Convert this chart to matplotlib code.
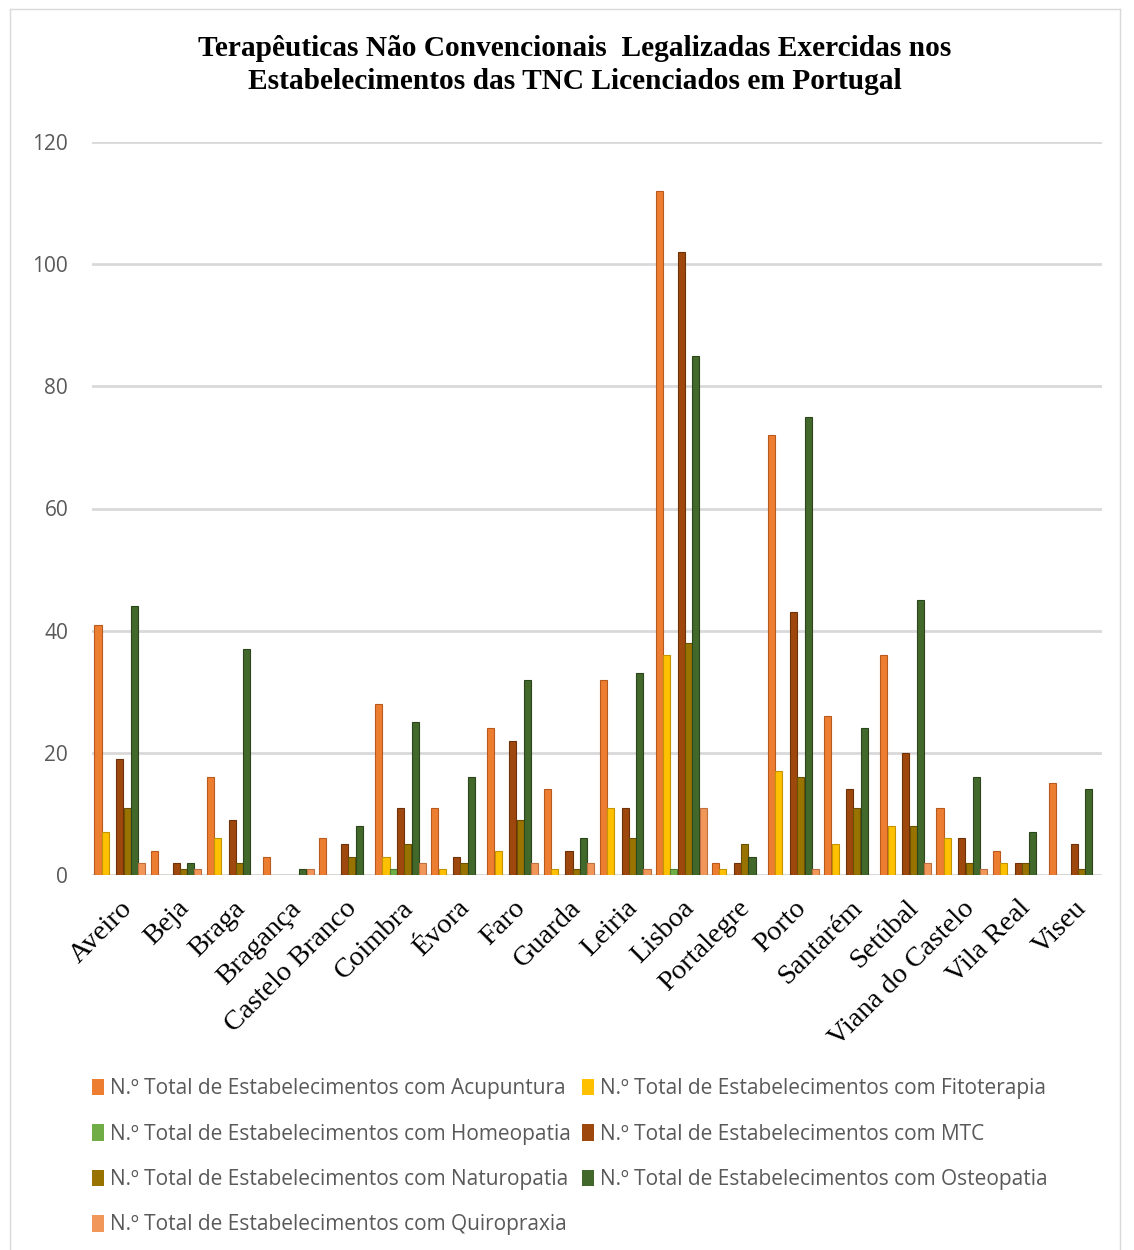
import numpy as np
import matplotlib
matplotlib.use("Agg")
from matplotlib import pyplot as plt
from matplotlib.lines import Line2D
from matplotlib.patches import Patch

# data
districts = ['Aveiro', 'Beja', 'Braga', 'Bragança', 'Castelo Branco', 'Coimbra',
             'Évora', 'Faro', 'Guarda', 'Leiria', 'Lisboa', 'Portalegre', 'Porto',
             'Santarém', 'Setúbal', 'Viana do Castelo', 'Vila Real', 'Viseu']
acupuntura = [41, 4, 16, 3, 6, 28, 11, 24, 14, 32, 112, 2, 72, 26, 36, 11, 4, 15]
fitoterapia = [7, 0, 6, 0, 0, 3, 1, 4, 1, 11, 36, 1, 17, 5, 8, 6, 2, 0]
homeopatia = [0, 0, 0, 0, 0, 1, 0, 0, 0, 0, 1, 0, 0, 0, 0, 0, 0, 0]
mtc = [19, 2, 9, 0, 5, 11, 3, 22, 4, 11, 102, 2, 43, 14, 20, 6, 2, 5]
naturopatia = [11, 1, 2, 0, 3, 5, 2, 9, 1, 6, 38, 5, 16, 11, 8, 2, 2, 1]
osteopatia = [44, 2, 37, 1, 8, 25, 16, 32, 6, 33, 85, 3, 75, 24, 45, 16, 7, 14]
quiropraxia = [2, 1, 0, 1, 0, 2, 0, 2, 2, 1, 11, 0, 1, 0, 2, 1, 0, 0]

series_names = ['Acupuntura', 'Fitoterapia', 'Homeopatia', 'MTC',
                'Naturopatia', 'Osteopatia', 'Quiropraxia']
series_vals = [acupuntura, fitoterapia, homeopatia, mtc, naturopatia, osteopatia, quiropraxia]
colors = ['#ED7D31', '#FFC000', '#70AD47', '#9E480E', '#997300', '#43682B', '#F1975A']
edges = ['#B85A1E', '#C49300', '#4E7F30', '#6E310A', '#6B5000', '#2C461C', '#C0703E']

fig = plt.figure(figsize=(11.34, 12.5), dpi=100)
ax = fig.add_axes([0.081, 0.3, 0.891, 0.5864])

x = np.arange(len(districts))
width = 0.13
for i, (vals, c, ec) in enumerate(zip(series_vals, colors, edges)):
    ax.bar(x + (i - 3) * width, vals, width * 0.97, color=c, edgecolor=ec,
           linewidth=0.8, zorder=3)

ax.set_xlim(-0.5, len(districts) - 0.5)
ax.set_ylim(0, 120)
ax.set_yticks(range(0, 121, 20))
ax.yaxis.grid(True, color='#D9D9D9', linewidth=2, zorder=0)
for s in ax.spines.values():
    s.set_visible(False)
ax.tick_params(axis='y', length=0, labelsize=15, labelcolor='#595959', pad=17)
ax.tick_params(axis='x', length=0, pad=15)
ax.set_xticks(x)
ax.set_xticklabels(districts, rotation=45, ha='right', rotation_mode='anchor',
                   fontfamily='Liberation Serif', fontsize=20.5)
for lab in ax.get_yticklabels():
    lab.set_fontfamily('Open Sans')

fig.text(0.507, 0.972, 'Terapêuticas Não Convencionais  Legalizadas Exercidas nos\n'
         'Estabelecimentos das TNC Licenciados em Portugal',
         ha='center', va='top', fontfamily='Liberation Serif', fontweight='bold',
         fontsize=21.2, linespacing=1.3)

# legend, row-major order like the original
order = [0, 2, 4, 6, 1, 3, 5]
handles = [Patch(facecolor=colors[i], edgecolor='none') for i in order]
labels = ['N.º Total de Estabelecimentos com ' + series_names[i] for i in order]
leg = fig.legend(handles, labels, ncol=2, loc='upper left',
                 bbox_to_anchor=(0.074, 0.144), frameon=False,
                 prop={'family': 'Open Sans', 'size': 15},
                 handlelength=0.55, handleheight=0.85, handletextpad=0.3,
                 columnspacing=0.55, labelspacing=1.17, borderaxespad=0)
for t in leg.get_texts():
    t.set_color('#595959')

# outer frame
for xs, ys in [([0.009, 0.009], [0, 0.993]), ([0.009, 0.988], [0.993, 0.993]),
               ([0.988, 0.988], [0, 0.993])]:
    fig.add_artist(Line2D(xs, ys, color='#D9D9D9', linewidth=1))

fig.savefig('out.png', dpi=100, facecolor='white')
